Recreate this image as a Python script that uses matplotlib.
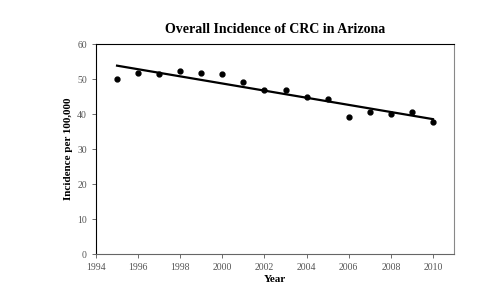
import numpy as np
import matplotlib
matplotlib.use('Agg')
import matplotlib.pyplot as plt

years = [1995, 1996, 1997, 1998, 1999, 2000, 2001, 2002,
         2003, 2004, 2005, 2006, 2007, 2008, 2009, 2010]
incidence = [50.1, 51.6, 51.4, 52.3, 51.6, 51.5, 49.2, 47.0,
             47.0, 44.8, 44.2, 39.2, 40.7, 40.1, 40.7, 37.7]

plt.rcParams['font.family'] = ['Liberation Serif', 'DejaVu Serif']

fig = plt.figure(figsize=(5, 2.94), dpi=100)
ax = fig.add_axes([0.192, 0.136, 0.716, 0.714])

x = np.array(years)
y = np.array(incidence)
popt = np.polyfit(x, y, 1)   # linear trend
ax.plot(x, np.polyval(popt, x), '-', color='black', lw=1.6)
ax.plot(x, y, 'o', color='black', ms=3.5)

ax.set_xlim(1994, 2011)
ax.set_ylim(0, 60)
ax.set_xticks(np.arange(1994, 2011, 2))
ax.set_yticks(np.arange(0, 61, 10))
ax.tick_params(labelsize=7, length=3, width=0.6, colors='#555555')

ax.spines['left'].set_color('black')
ax.spines['top'].set_color('black')
ax.spines['right'].set_color('#888888')
ax.spines['bottom'].set_color('#666666')
for s in ax.spines.values():
    s.set_linewidth(0.8)

ax.set_title('Overall Incidence of CRC in Arizona', fontsize=10, fontweight='bold', pad=8)
ax.set_xlabel('Year', fontsize=8, fontweight='bold', labelpad=2)
ax.set_ylabel('Incidence per 100,000', fontsize=8, fontweight='bold', labelpad=3)

fig.savefig('out.png', dpi=100)
